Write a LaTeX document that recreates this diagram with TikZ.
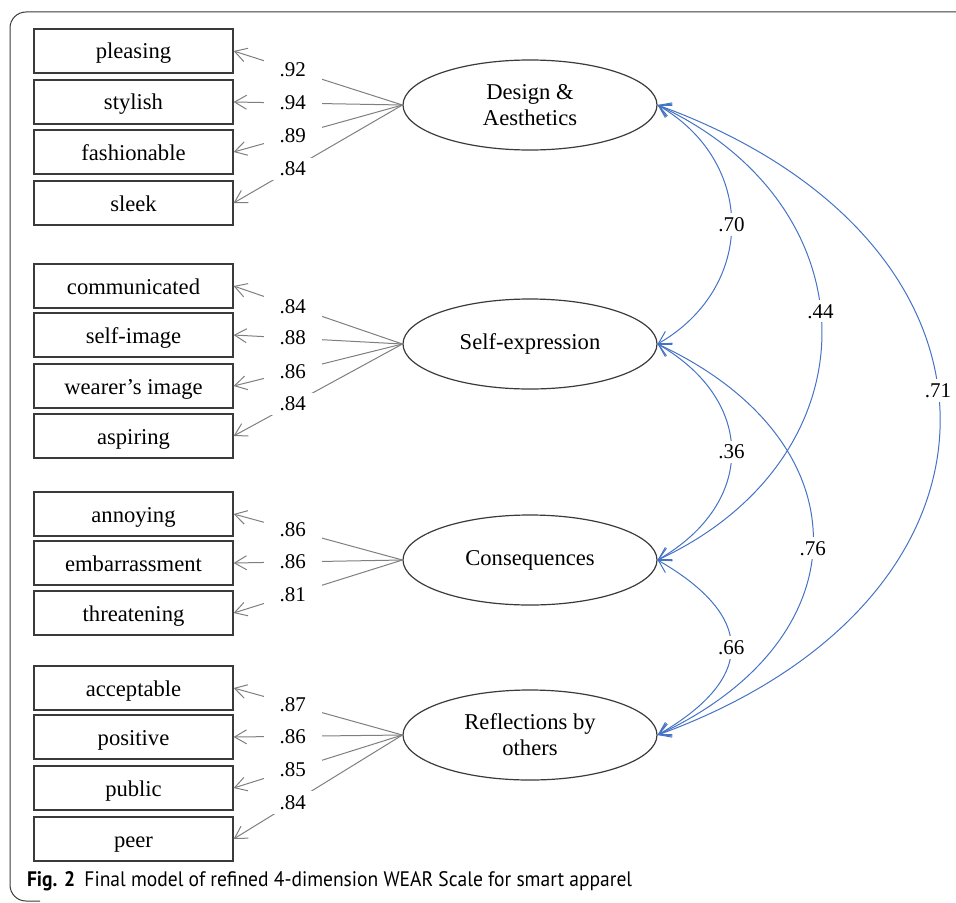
\documentclass[tikz,border=0pt]{standalone}
\usepackage{fontspec}
\setmainfont{Liberation Serif}
\newfontfamily\capfont{PT Sans}
\usetikzlibrary{arrows.meta,shapes.geometric}
\definecolor{cov}{HTML}{4472C4}
\definecolor{ld}{HTML}{7F7F7F}
\definecolor{edge}{HTML}{3A3A3A}
\tikzset{
  item/.style={draw=edge,line width=0.6pt,minimum width=99.5pt,minimum height=22pt,inner sep=0pt,text height=8pt,text depth=0pt,font=\fontsize{11.3}{13}\selectfont},
  factor/.style={draw=edge,ellipse,line width=0.6pt,minimum width=127pt,minimum height=45pt,inner sep=0pt,align=center,font=\fontsize{11.3}{13}\selectfont},
  load/.style={ld,line width=0.5pt,-{Straight Barb[length=6pt,width=7pt]}},
  cor/.style={cov,line width=0.5pt,{Straight Barb[length=6pt,width=7pt]}-{Straight Barb[length=6pt,width=7pt]}},
  coef/.style={fill=white,text=black,inner xsep=8pt,inner ysep=2pt,font=\fontsize{10.5}{12}\selectfont},
}

\begin{document}
\begin{tikzpicture}[x=0.5pt,y=0.5pt]
  \useasboundingbox (0,0) rectangle (956,902);
  \draw[edge,line width=0.5pt,rounded corners=8] (957,890) -- (10,890) -- (10,1) -- (40,1);
  % observed items
  \foreach \n/\t/\y in {pleasing/pleasing/851,stylish/stylish/800,fashionable/fashionable/750,sleek/sleek/699,
      communicated/communicated/616,selfimage/self-image/567,wearer/wearer’s image/516,aspiring/aspiring/466,
      annoying/annoying/388,embarrassment/embarrassment/339,threatening/threatening/289,
      acceptable/acceptable/214,positive/positive/165,public/public/114,peer/peer/63}
    \node[item] (\n) at (133.5,\y) {\t};
  % factors
  \node[factor] (design) at (530,797) {Design \&\\Aesthetics};
  \node[factor] (selfexp) at (530,558) {Self-expression};
  \node[factor] (conseq) at (530,342) {Consequences};
  \node[factor] (reflect) at (530,167) {Reflections by\\others};
  \foreach \f/\n/\v in {design/pleasing/.92,design/stylish/.94,design/fashionable/.89,design/sleek/.84,
      selfexp/communicated/.84,selfexp/selfimage/.88,selfexp/wearer/.86,selfexp/aspiring/.84,
      conseq/annoying/.86,conseq/embarrassment/.86,conseq/threatening/.81,
      reflect/acceptable/.87,reflect/positive/.86,reflect/public/.85,reflect/peer/.84}
    \draw[load] (\f.west) -- node[coef,pos=0.65] {\v} (\n.east);
  % correlations
  \draw[cor] (design.east) to[out=-30,in=30,looseness=1.22] node[coef,inner xsep=1pt] {.70} (selfexp.east);
  \draw[cor] (design.east) to[out=-25,in=25,looseness=1.36] node[coef,inner xsep=1pt,pos=0.46] {.44} (conseq.east);
  \draw[cor] (design.east) to[out=-20,in=20,looseness=1.63] node[coef,inner xsep=1pt,pos=0.46] {.71} (reflect.east);
  \draw[cor] (selfexp.east) to[out=-30,in=30,looseness=1.35] node[coef,inner xsep=1pt] {.36} (conseq.east);
  \draw[cor] (selfexp.east) to[out=-25,in=25,looseness=1.5] node[coef,inner xsep=1pt,pos=0.52] {.76} (reflect.east);
  \draw[cor] (conseq.east) to[out=-30,in=30,looseness=1.66] node[coef,inner xsep=1pt] {.66} (reflect.east);
  \node[anchor=base west,font=\capfont\fontsize{10.5}{12}\selectfont] (caption) at (20,16)
    {\scalebox{0.93}[1]{\textbf{Fig. 2}\hspace{5pt}Final model of refined 4-dimension WEAR Scale for smart apparel}};
\end{tikzpicture}
\end{document}
